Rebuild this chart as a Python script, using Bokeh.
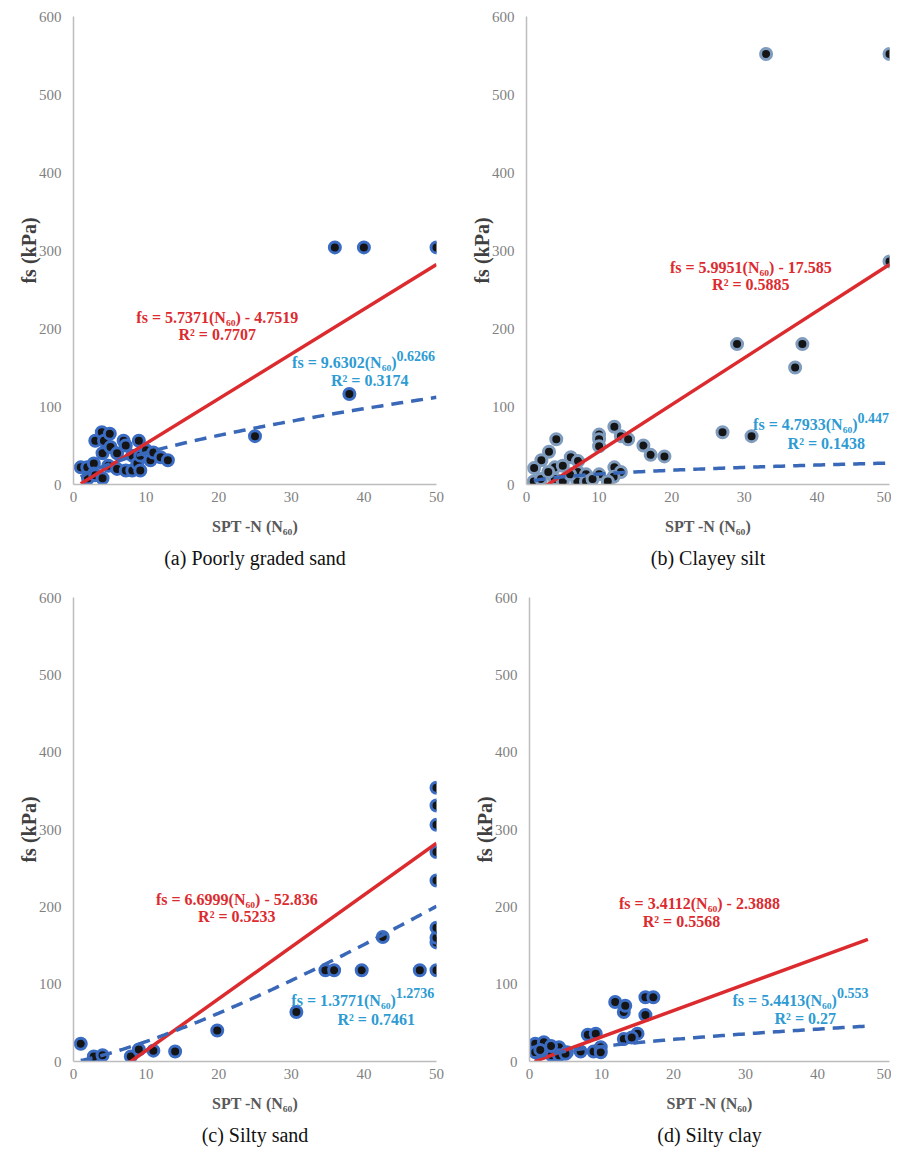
import numpy as np
from bokeh.plotting import figure
from bokeh.layouts import column, row
from bokeh.models import Label, Title, Range1d
from bokeh.embed import file_html
from bokeh.resources import INLINE

# ---------------- data ----------------
# (a) Poorly graded sand
a_n = [1, 1.9, 2.8, 2.8, 2, 3, 3, 3.9, 4.2, 4, 4, 4.8, 5, 5.1, 6, 6, 6.9, 7.2, 7.2,
       8.1, 8.1, 8.8, 9, 9.2, 9.2, 10, 10.6, 11, 12, 13, 25, 38, 36, 40, 50]
a_fs = [22, 22, 27, 14, 8, 12, 56, 67, 56, 40, 8, 24, 65, 48, 40, 20, 56, 50, 18,
        37, 18, 27, 56, 37, 18, 44, 31, 41, 35, 31, 62, 116, 304, 304, 304]
# (b) Clayey silt
b_n = [33, 50, 50, 29, 38, 37, 27, 31, 12.1, 10, 10, 10, 13, 14, 16.1, 17.1, 19,
       4.1, 3.1, 2.05, 6.1, 7.1, 1.05, 3.9, 5, 7.1, 8.2, 10, 12.1, 13, 12, 1, 2,
       3.9, 5, 7, 8.2, 11.2, 3, 6, 9.1]
b_fs = [552, 552, 286, 180, 180, 150, 67, 62, 74, 64, 58, 49, 62, 58, 50, 38, 36,
        58, 42, 31, 35, 30, 21, 22, 24, 16, 13, 13, 22, 16, 10, 4, 7,
        7, 4, 4, 4, 4, 16, 13, 7]
# (c) Silty sand
c_n = [1, 2.8, 4, 7.9, 9, 11, 14, 19.8, 30.7, 34.7, 35.9, 39.7, 42.6, 47.7,
       50, 50, 50, 50, 50, 50, 50, 50, 50]
c_fs = [23, 6.5, 8, 6.5, 15.5, 14, 13, 40, 64, 118, 118, 118, 161, 118,
        118, 154, 160, 173, 234, 271, 306, 331, 354]
# (d) Silty clay
d_n = [0.8, 2, 0.8, 2, 3.1, 4.1, 5.2, 4.1, 7.1, 8.1, 9.2, 8.9, 9.9, 9.9, 11.9,
       13.1, 13.3, 13.1, 15, 14.2, 16.1, 16.1, 17.2, 1.5, 3, 5]
d_fs = [23, 25, 12, 12, 8, 18.5, 12, 8, 13, 34.5, 36, 13, 18.5, 12, 77,
        64, 72, 29, 36, 31, 60, 83, 83, 15, 20, 10]

# fitted trend-line coefficients shown on the chart
lin_slope = [5.7371, 5.9951, 6.6999, 3.4112]
lin_icpt = [-4.7519, -17.585, -52.836, -2.3888]
pow_coef = [9.6302, 4.7933, 1.3771, 5.4413]
pow_exp = [0.6266, 0.447, 1.2736, 0.553]
r2_lin = ["0.7707", "0.5885", "0.5233", "0.5568"]
r2_pow = ["0.3174", "0.1438", "0.7461", "0.27"]
n_range = [(1, 50), (1, 50), (1, 50), (0.7, 47)]
captions = ["(a) Poorly graded sand", "(b) Clayey silt", "(c) Silty sand", "(d) Silty clay"]

x_ticks = [0, 10, 20, 30, 40, 50]
y_ticks = [0, 100, 200, 300, 400, 500, 600]

RED = "#dc2b2f"
CYAN = "#2e9bd3"
DASH = "#3a68b8"
SERIF = "Liberation Serif"


def fmt(v):
    return ("%.4f" % v).rstrip("0").rstrip(".")


def panel(i, n, fs, geom, ring, txt):
    fw, fh, bl, br, bt, bb = geom
    p = figure(frame_width=fw, frame_height=fh, x_range=Range1d(0, 50),
               y_range=Range1d(0, 600), output_backend="svg", toolbar_location=None,
               min_border_left=bl, min_border_right=br, min_border_top=bt,
               min_border_bottom=bb)
    p.outline_line_color = None
    p.xgrid.visible = False
    p.ygrid.visible = False
    for ax in (p.xaxis, p.yaxis):
        ax.axis_line_color = "#bdbdbd"
        ax.axis_line_width = 1.5
        ax.major_tick_line_color = None
        ax.minor_tick_line_color = None
        ax.major_tick_out = 0
        ax.major_tick_in = 0
        ax.minor_tick_out = 0
        ax.major_label_text_font = SERIF
        ax.major_label_text_font_size = "15px"
        ax.major_label_text_color = "#7f7f7f"
        ax.axis_label_text_font = SERIF
        ax.axis_label_text_font_style = "bold"
    p.xaxis.ticker = x_ticks
    p.yaxis.ticker = y_ticks
    p.xaxis.major_label_standoff = 7
    p.yaxis.major_label_standoff = 12
    p.xaxis.axis_label = "SPT -N (N₆₀)"
    p.xaxis.axis_label_text_font_size = "16px"
    p.xaxis.axis_label_text_color = "#595959"
    p.xaxis.axis_label_standoff = 13
    p.yaxis.axis_label = "fs (kPa)"
    p.yaxis.axis_label_text_font_size = "20px"
    p.yaxis.axis_label_text_color = "#404040"
    p.yaxis.axis_label_standoff = -4

    p.scatter(n, fs, size=11, fill_color="#151515", line_color=ring, line_width=3)

    lo, hi = n_range[i]
    xs = np.array([lo, hi])
    p.line(xs, lin_slope[i] * xs + lin_icpt[i], line_color=RED, line_width=3.5)
    xp = np.linspace(lo, hi, 120)
    p.line(xp, pow_coef[i] * xp ** pow_exp[i], line_color=DASH, line_width=3.5,
           line_dash="12 8")

    (rx, ry1, rx2, ry2), (ax_, amy, aey, qx, qy) = txt
    sign = "-" if lin_icpt[i] < 0 else "+"
    common = dict(text_font=SERIF, text_font_style="bold", text_baseline="middle")
    p.add_layout(Label(x=rx, y=ry1, text="fs = %s(N₆₀) %s %s" % (fmt(lin_slope[i]), sign,
                                                               fmt(abs(lin_icpt[i]))),
                       text_align="center", text_color=RED, text_font_size="16px", **common))
    p.add_layout(Label(x=rx2, y=ry2, text="R² = " + r2_lin[i], text_align="center",
                       text_color=RED, text_font_size="16px", **common))
    p.add_layout(Label(x=ax_, y=amy, text="fs = %s(N₆₀)" % fmt(pow_coef[i]),
                       text_align="right", text_color=CYAN, text_font_size="16px", **common))
    p.add_layout(Label(x=ax_, y=aey, text=fmt(pow_exp[i]), text_align="left",
                       text_color=CYAN, text_font_size="14px", **common))
    p.add_layout(Label(x=qx, y=qy, text="R² = " + r2_pow[i], text_align="center",
                       text_color=CYAN, text_font_size="16px", **common))

    p.add_layout(Title(text=captions[i], align="center", text_font=SERIF,
                       text_font_size="20px", text_font_style="normal",
                       text_color="#111111", standoff=14), "below")
    return p


pa = panel(0, a_n, a_fs, (363, 468, 73, 24, 16, 93), "#3b6cc4",
           ((19.8, 214, 19.8, 192), (44.5, 157, 165, 40.8, 133)))
pb = panel(1, b_n, b_fs, (363, 468, 66, 2, 12, 97), "#7f9bbd",
           ((30.9, 278, 30.9, 256), (45.6, 77, 85, 41.3, 53)))
pc = panel(2, c_n, c_fs, (363, 464, 73, 24, 20, 93), "#3b6cc4",
           ((22.5, 210, 22.5, 187), (44.4, 79, 88, 41.7, 54)))
pd = panel(3, d_n, d_fs, (360, 464, 69, 2, 20, 93), "#3b6cc4",
           ((23.6, 204, 21.1, 181), (42.7, 79, 88, 38.3, 56)))

layout = column(row(pa, pb), row(pc, pd))
open("out.html", "w").write(file_html(layout, INLINE))
